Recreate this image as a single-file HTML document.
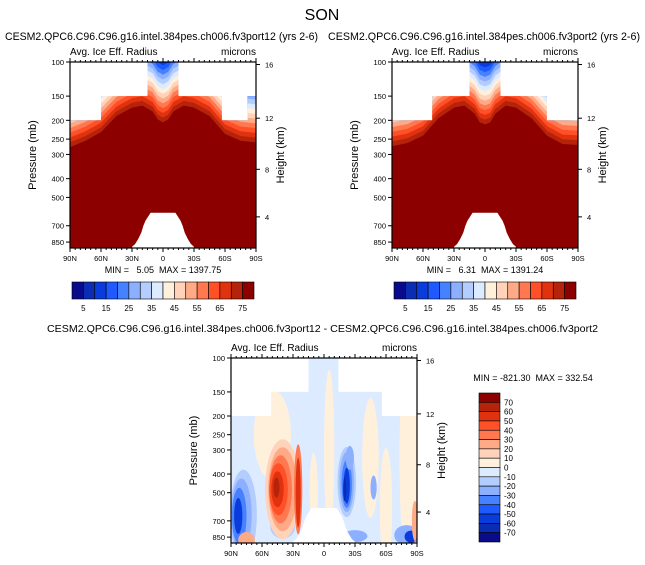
<!DOCTYPE html>
<html><head><meta charset="utf-8">
<style>
body{margin:0;background:#fff;}
svg{display:block;font-family:"Liberation Sans",sans-serif;}
text{white-space:pre;}
</style></head>
<body>
<svg id="fig" width="645" height="565" viewBox="0 0 645 565">
<text x="322" y="20" font-size="16" text-anchor="middle">SON</text>
<text x="5" y="40" font-size="11" textLength="313" lengthAdjust="spacingAndGlyphs">CESM2.QPC6.C96.C96.g16.intel.384pes.ch006.fv3port12 (yrs 2-6)</text>
<text x="328" y="40" font-size="11" textLength="312" lengthAdjust="spacingAndGlyphs">CESM2.QPC6.C96.C96.g16.intel.384pes.ch006.fv3port2 (yrs 2-6)</text>
<text x="47" y="332" font-size="10.5" textLength="551" lengthAdjust="spacingAndGlyphs">CESM2.QPC6.C96.C96.g16.intel.384pes.ch006.fv3port12 - CESM2.QPC6.C96.C96.g16.intel.384pes.ch006.fv3port2</text>
<g id="panels"></g>
</svg>
<script>
// ---- data ----
const colors=["#0A0A8C","#0A2DB4","#0A3CDC","#1E5AFF","#4682FF","#8CAFFF","#B4CDFF","#DCEBFF","#FFF0DC","#FFD2B9","#FFAA87","#FF7850","#FF5028","#E1320F","#B4230A","#8C0000"];
const barLabels=["5","15","25","35","45","55","65","75"];
const diffLabels=["70","60","50","40","30","20","10","0","-10","-20","-30","-40","-50","-60","-70"];
const pTicks=[100,150,200,250,300,400,500,700,850];
const zTicks=[16,12,8,4];
const zTickP=[103,195,358,630];
const latTicks=[90,60,30,0,-30,-60,-90];
const latLabels=["90N","60N","30N","0","30S","60S","90S"];
const lats=[90,75,60,45,30,20,10,5,0,-5,-10,-20,-30,-45,-60,-75,-90];
const boundL=[275,255,230,190,172,168,180,198,205,198,180,168,172,190,235,255,260];
const boundR=[272,262,240,195,172,168,185,205,210,205,185,168,172,195,240,265,268];
const topL=[[90,60,200],[60,15,150],[15,-15,100],[-15,-57,150],[-57,-82,200],[-82,-90,150]];
const topR=[[90,51,200],[51,15,150],[15,-15,100],[-15,-60,150],[-60,-90,200]];
const ground=[[30,900],[27,870],[24,820],[21,760],[19,700],[17,660],[12,600],[-12,600],[-17,660],[-19,700],[-21,760],[-24,820],[-27,870],[-30,900]];
const NS="http://www.w3.org/2000/svg";
const svg=document.getElementById('panels');
function el(t,a,p){const e=document.createElementNS(NS,t);for(const k in a)e.setAttribute(k,a[k]);(p||svg).appendChild(e);return e;}
function mkAxes(x0,y0,w,h){
 const X=lat=>x0+(90-lat)/180*w;
 const Y=p=>y0+(Math.log10(p)-2)*(h/0.96);
 return {X,Y};
}
function maskPath(A,top,y1){
 let d="";top.forEach((s,i)=>{d+=(i?"L":"M")+A.X(s[0])+","+A.Y(s[2])+"L"+A.X(s[1])+","+A.Y(s[2]);});
 d+="L"+A.X(-90)+","+y1+"L"+A.X(90)+","+y1+"Z";return d;
}
let clipN=0;
function frame(g,A,x0,y0,w,h,name){
 const f=el('rect',{x:x0,y:y0,width:w,height:h,fill:'none',stroke:'#000','stroke-width':1.2},g);
 
 
 pTicks.forEach(p=>{const y=A.Y(p);el('line',{x1:x0-4,x2:x0,y1:y,y2:y,stroke:'#000'},g);
  const t=el('text',{x:x0-6,y:y+3,'font-size':7.5,'text-anchor':'end'},g);t.textContent=p;
  });
 zTicks.forEach((z,i)=>{const y=A.Y(zTickP[i]);el('line',{x1:x0+w,x2:x0+w+4,y1:y,y2:y,stroke:'#000'},g);
  const t=el('text',{x:x0+w+9,y:y+3,'font-size':7.5},g);t.textContent=z;
  });
 latTicks.forEach((l,i)=>{const x=A.X(l);el('line',{x1:x,x2:x,y1:y0+h,y2:y0+h+4,stroke:'#000'},g);el('line',{x1:x,x2:x,y1:y0,y2:y0-4,stroke:'#000'},g);
  const t=el('text',{x:x,y:y0+h+13,'font-size':7.5,'text-anchor':'middle'},g);t.textContent=latLabels[i];
  });
 for(let l=-85;l<=85;l+=5){if(l%30==0)continue;const x=A.X(l);el('line',{x1:x,x2:x,y1:y0+h,y2:y0+h+2,stroke:'#000'},g);el('line',{x1:x,x2:x,y1:y0,y2:y0-2,stroke:'#000'},g);}
 let t=el('text',{x:x0-34,y:y0+h/2,'font-size':11,'text-anchor':'middle',transform:`rotate(-90 ${x0-34} ${y0+h/2})`},g);t.textContent="Pressure (mb)";
 
 t=el('text',{x:x0+w+28,y:y0+h/2,'font-size':11,'text-anchor':'middle',transform:`rotate(-90 ${x0+w+28} ${y0+h/2})`},g);t.textContent="Height (km)";
 
 t=el('text',{x:x0,y:y0-7,'font-size':10},g);t.textContent="Avg. Ice Eff. Radius";
 
 t=el('text',{x:x0+w,y:y0-7,'font-size':10,'text-anchor':'end'},g);t.textContent="microns";
 
}
function groundPoly(g,A,y1){
 let d="";
 ground.forEach((q,i)=>{const x=A.X(q[0]),y=Math.min(y1,A.Y(q[1]));
  if(i==0)d+="M"+x+","+y1;
  d+="L"+x+","+y;});
 d+="L"+A.X(ground[ground.length-1][0])+","+y1+"Z";
 const p=el('path',{d:d,fill:'#fff'},g);
 
}
function panel(x0,y0,w,h,bound,top,name,minmax){
 const g=el('g',{});
 
 const A=mkAxes(x0,y0,w,h);const y1=y0+h;
 const id='c'+(clipN++);const cp=el('clipPath',{id:id},g);el('path',{d:maskPath(A,top,y1)},cp);
 const cg=el('g',{'clip-path':`url(#${id})`},g);
 for(let k=15;k>=0;k--){
  let d="M"+A.X(90)+","+y1;
  lats.forEach((l,i)=>{d+="L"+A.X(l)+","+A.Y(bound[i]*Math.pow(0.945,k));});
  d+="L"+A.X(-90)+","+y1+"Z";
  const p=el('path',{d:d,fill:colors[15-k]},cg);
  
 }
 groundPoly(g,A,y1);
 frame(g,A,x0,y0,w,h,name);
 const t=el('text',{x:x0+w/2,y:y1+25,'font-size':9,'text-anchor':'middle'},g);t.textContent=minmax;
 
 const bx=x0+2,bw=w-4,by=282,bh=17,cw=bw/16;
 colors.forEach((c,i)=>{const r=el('rect',{x:bx+i*cw,y:by,width:cw,height:bh,fill:c,stroke:'#000','stroke-width':0.6},g);
  });
 barLabels.forEach((l,i)=>{const tt=el('text',{x:bx+(2*i+1)*cw,y:by+bh+12,'font-size':8,'text-anchor':'middle'},g);tt.textContent=l;
  });
}
panel(70,62,186,186,boundL,topL,'left-panel',"MIN =   5.05  MAX = 1397.75");
panel(392,62,186,186,boundR,topR,'right-panel',"MIN =   6.31  MAX = 1391.24");

// ---- difference panel ----
const diffTop=[[90,51,200],[51,15,150],[15,-14,100],[-14,-56,150],[-56,-90,200]];
// blobs: [lat, p, rx(deg), ry(px), colorIndex]
const blobs=[
 [50,250,18,45,8],[-5,300,5,80,8],[-45,330,8,60,8],[-82,320,9,120,8],[-60,600,6,60,8],[10,500,4,40,8],
 [78,650,13,45,6],[80,650,10,36,5],[82,660,7,28,4],[83,660,4,18,2],[40,750,12,12,6],
 [-80,830,12,10,5],[-84,845,6,6,2],[-30,840,12,6,5],
 [40,480,17,50,9],[40,480,14,42,10],[42,480,11,34,11],[44,480,9,26,12],[45,480,6,18,13],[46,470,3,10,14],
 [25,480,4,45,11],[25,500,2.5,35,13],[75,880,8,8,10],
 [-22,440,9,35,6],[-22,440,7,30,5],[-22,450,5,24,4],[-22,460,3,18,2],[-20,480,1.5,12,1],
 [-25,330,4,12,5],[-48,470,3,12,5],[-88,700,3,20,10]
];
(function(){
 const x0=231,y0=358,w=186,h=185;
 const g=el('g',{});
 const A=mkAxes(x0,y0,w,h);const y1=y0+h;
 const cp=el('clipPath',{id:'cd'},g);el('path',{d:maskPath(A,diffTop,y1)},cp);
 const cg=el('g',{'clip-path':'url(#cd)'},g);
 const bg=el('rect',{x:x0,y:y0,width:w,height:h,fill:colors[7]},cg);
 
 blobs.forEach(b=>{const e=el('ellipse',{cx:A.X(b[0]),cy:A.Y(b[1]),rx:b[2]/180*w,ry:b[3],fill:colors[b[4]]},cg);
  });
 groundPoly(g,A,y1);
 frame(g,A,x0,y0,w,h,'difference-panel');
 const t=el('text',{x:533,y:381,'font-size':9,'text-anchor':'middle'},g);t.textContent="MIN = -821.30  MAX = 332.54";
 
 const bx=479,by=393,bw=21,bh=149/16;
 for(let i=0;i<16;i++){const r=el('rect',{x:bx,y:by+i*bh,width:bw,height:bh,fill:colors[15-i],stroke:'#000','stroke-width':0.6},g);
  }
 diffLabels.forEach((l,i)=>{const tt=el('text',{x:bx+bw+4,y:by+(i+1)*bh+3,'font-size':8},g);tt.textContent=l;
  });
})();
</script>
</body></html>
